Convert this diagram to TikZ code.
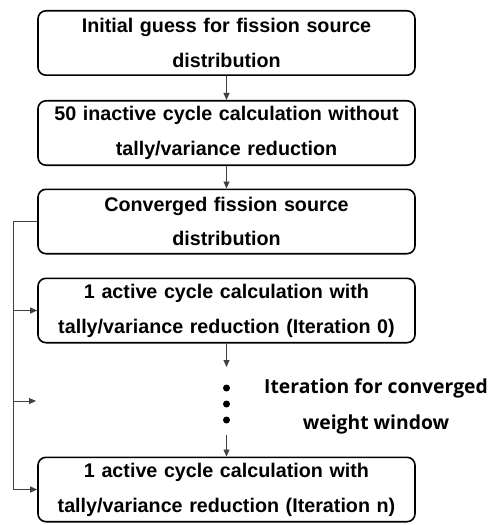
\documentclass[tikz,border=0pt]{standalone}
\usepackage{fontspec}
\setmainfont{Liberation Sans}
\newfontfamily\notefont{Open Sans}
\usetikzlibrary{positioning,arrows.meta}

\tikzset{
  stepbox/.style={draw, line width=1.6bp, rounded corners=8bp,
    minimum width=377bp, minimum height=64.4bp, text width=372bp,
    align=center, inner sep=0pt,
    font=\bfseries\fontsize{19.8}{35}\selectfont},
  flow/.style={draw=black!75, line width=0.9bp, -{Triangle[length=7bp,width=6bp]}},
  dot/.style={circle, fill=black, inner sep=0pt, minimum size=7bp},
  note/.style={align=center, font=\notefont\bfseries\fontsize{19.4}{36}\selectfont},
}

\begin{document}
\begin{tikzpicture}[x=1bp,y=-1bp]
        \useasboundingbox (0,0) rectangle (488,525);

        % Main steps
        \node[stepbox] (guess) at (226.5,43) {Initial guess for fission source\\distribution};
        \node[stepbox, below=24bp of guess] (inactive) {50 inactive cycle calculation without\\tally/variance reduction};
        \node[stepbox, below=22.5bp of inactive] (converged) {Converged fission source\\distribution};
        \node[stepbox, below=23bp of converged] (active0) {1 active cycle calculation with\\tally/variance reduction (Iteration 0)};
        \node[stepbox, below=113bp of active0] (activen) {1 active cycle calculation with\\tally/variance reduction (Iteration n)};

        % Iteration dots
        \node[dot] (d1) at (226.5,388) {};
        \node[dot] (d2) at (226.5,404) {};
        \node[dot] (d3) at (226.5,420) {};
        \coordinate (dotin) at (226.5,367);
        \coordinate (dotout) at (226.5,435);
        \node[note] (iterlabel) at (376,406) {Iteration for converged\\weight window};

        % Down arrows
        \draw[flow] (guess) -- (inactive);
        \draw[flow] (inactive) -- (converged);
        \draw[flow] (active0) -- (dotin);
        \draw[flow] (dotout) -- (activen);

        % Feedback rail on the left
        \coordinate (rail) at (13,0);
        \coordinate (gap) at (36,401);
        \draw[flow] (converged.west) -| (rail |- activen.west) -- (activen.west);
        \draw[flow] (rail |- active0.west) -- (active0.west);
        \draw[flow] (rail |- gap) -- (gap);
\end{tikzpicture}
\end{document}
